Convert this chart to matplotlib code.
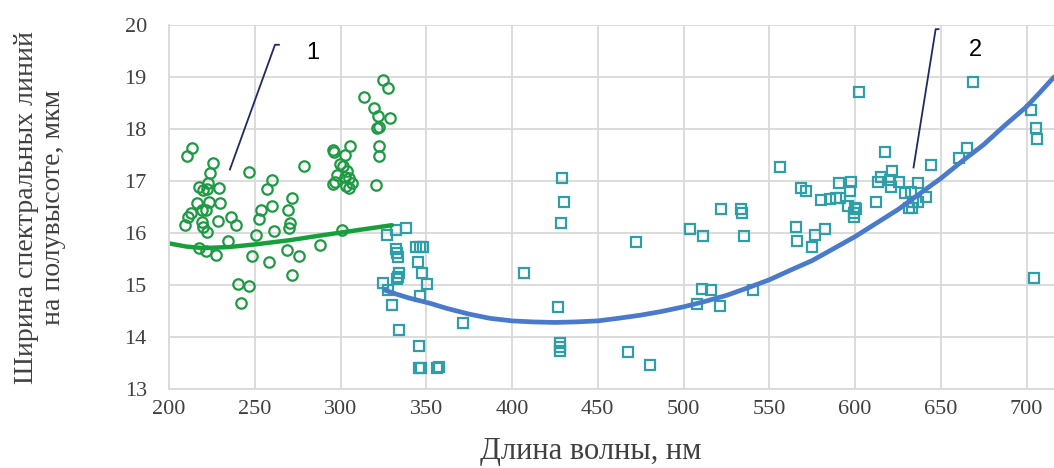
import numpy as np
import matplotlib
matplotlib.use("Agg")
import matplotlib.pyplot as plt

# --- DATA ---
# series 1: green circles
x1 = [213.2, 210.7, 225.8, 223.9, 246.6, 259.8, 256.9, 217.7, 220.0, 222.3,
      222.9, 229.0, 216.1, 223.5, 229.7, 219.0, 221.6, 212.6, 211.2, 209.3,
      219.0, 220.0, 222.3, 228.7, 236.1, 238.9, 234.6, 217.5, 221.4, 227.2,
      250.5, 253.6, 252.6, 259.8, 261.4, 248.2, 258.3, 240.0, 246.6, 242.0,
      271.5, 269.5, 270.5, 269.9, 268.6, 271.7, 276.0, 278.7, 300.6, 288.0,
      324.5, 327.8, 313.6, 319.5, 322.0, 328.8, 322.6, 321.4, 322.6, 322.6,
      320.6, 305.5, 295.4, 296.2, 302.6, 299.7, 301.6, 303.9, 297.7, 302.6,
      305.1, 296.7, 295.7, 303.1, 306.5, 305.1]
y1 = [17.63, 17.48, 17.34, 17.15, 17.18, 17.01, 16.84, 16.88, 16.83, 16.84,
      16.97, 16.87, 16.58, 16.60, 16.58, 16.44, 16.44, 16.38, 16.30, 16.15,
      16.22, 16.12, 16.01, 16.24, 16.30, 16.16, 15.85, 15.72, 15.66, 15.58,
      15.97, 16.44, 16.26, 16.51, 16.04, 15.56, 15.44, 15.02, 14.98, 14.65,
      16.68, 16.44, 16.19, 16.09, 15.67, 15.19, 15.56, 17.28, 16.06, 15.77,
      18.94, 18.78, 18.61, 18.41, 18.25, 18.21, 18.04, 18.01, 17.68, 17.49,
      16.92, 17.68, 17.60, 17.55, 17.50, 17.32, 17.28, 17.19, 17.12, 17.08,
      17.05, 16.99, 16.94, 16.91, 16.96, 16.87]

# series 2: blue squares
x2 = [326.9, 332.3, 338.1, 332.1, 333.0, 333.6, 344.3, 346.3, 348.2, 344.9,
      347.6, 334.2, 333.6, 333.0, 350.2, 324.5, 327.8, 346.3, 329.8, 371.5,
      334.2, 345.9, 345.5, 347.0, 356.5, 357.5,
      429.2, 430.4, 428.3, 472.1, 406.9, 426.9, 427.9, 427.9, 427.7, 467.7,
      480.7,
      602.1, 668.7, 702.7, 705.6, 706.2, 704.3, 617.6, 644.5, 665.4, 660.5,
      556.5, 503.6, 511.4, 521.7, 533.7, 534.3, 535.1, 510.8, 515.8, 507.9,
      521.4, 540.5, 568.7, 571.5, 565.4, 566.2, 576.6, 574.9, 582.3,
      580.3, 585.6, 588.7, 591.0, 590.6, 597.4, 596.9, 595.9, 599.8, 599.2,
      599.2, 600.7,
      613.3, 615.3, 621.7, 620.5, 621.1, 625.6, 636.6, 612.0, 628.9, 632.8,
      633.8, 636.7, 641.2, 631.4, 633.4]
y2 = [15.97, 16.06, 16.09, 15.69, 15.61, 15.53, 15.73, 15.73, 15.73, 15.45,
      15.24, 15.24, 15.16, 15.11, 15.01, 15.03, 14.90, 14.78, 14.62, 14.26,
      14.13, 13.83, 13.40, 13.40, 13.41, 13.42,
      17.05, 16.60, 16.19, 15.83, 15.24, 14.58, 13.88, 13.81, 13.73, 13.71,
      13.46,
      18.72, 18.91, 18.37, 18.01, 17.81, 15.14, 17.56, 17.30, 17.63, 17.44,
      17.26, 16.07, 15.94, 16.46, 16.46, 16.39, 15.95, 14.93, 14.90, 14.63,
      14.60, 14.90, 16.87, 16.81, 16.12, 15.85, 15.96, 15.74, 16.07,
      16.63, 16.65, 16.68, 16.68, 16.97, 16.99, 16.81, 16.52, 16.49, 16.38,
      16.31, 16.46,
      16.99, 17.08, 17.20, 17.01, 16.88, 16.99, 16.97, 16.60, 16.76, 16.79,
      16.60, 16.60, 16.69, 16.48, 16.48]

# trend lines
trend1_x = [200, 210, 220, 235, 250, 270, 290, 311, 330]
trend1_y = [15.80, 15.74, 15.71, 15.73, 15.78, 15.86, 15.96, 16.06, 16.15]
trend2_x = [326, 333, 340, 346, 352, 362, 375, 387, 400, 412, 425, 437, 450,
            462, 475, 487, 500, 512, 525, 537, 550, 562, 575, 587, 600, 612,
            625, 637, 650, 662, 675, 687, 700, 708, 716]
trend2_y = [14.90, 14.82, 14.75, 14.70, 14.65, 14.55, 14.44, 14.36, 14.31,
            14.29, 14.28, 14.29, 14.31, 14.36, 14.42, 14.49, 14.58, 14.68,
            14.80, 14.94, 15.10, 15.28, 15.47, 15.69, 15.93, 16.18, 16.45,
            16.74, 17.05, 17.37, 17.70, 18.06, 18.43, 18.71, 19.00]

# leader lines for the labels "1" and "2"
lead1_x = [235.5, 261.8, 264.1]
lead1_y = [17.22, 19.62, 19.62]
lead2_x = [634.1, 647.0, 648.7]
lead2_y = [17.26, 19.92, 19.92]

xticks = list(range(200, 701, 50))
yticks = list(range(13, 21))

# --- PLOT ---
plt.rcParams["font.family"] = ["Liberation Serif", "DejaVu Serif"]

fig = plt.figure(figsize=(10.54, 4.68), dpi=100)
W, H = 1054, 468
ax = fig.add_axes([169 / W, 1 - 389 / H, (1054 - 169) / W, (389 - 25) / H])

grid_c = "#d9d9d9"
ax.set_xlim(200, 716)
ax.set_ylim(13, 20)
ax.set_xticks(xticks)
ax.set_yticks(yticks)
ax.grid(True, color=grid_c, linewidth=1.3)
ax.set_axisbelow(True)
for s in ["top", "right"]:
    ax.spines[s].set_visible(False)
for s in ["left", "bottom"]:
    ax.spines[s].set_color(grid_c)
    ax.spines[s].set_linewidth(1.3)
ax.tick_params(length=0, labelsize=16, labelcolor="#404040")
ax.tick_params(axis="y", pad=16)
ax.tick_params(axis="x", pad=8)

ax.plot(x1, y1, linestyle="none", marker="o", markersize=7.5,
        markerfacecolor="none", markeredgecolor="#1f9a44", markeredgewidth=1.6,
        clip_on=False)
ax.plot(x2, y2, linestyle="none", marker="s", markersize=6.8,
        markerfacecolor="none", markeredgecolor="#2e9ea8", markeredgewidth=1.6,
        clip_on=False)

ax.plot(trend1_x, trend1_y, color="#16a03c", linewidth=3.2,
        solid_capstyle="round", solid_joinstyle="round")
ax.plot(trend2_x, trend2_y, color="#4a7acc", linewidth=3.4,
        solid_capstyle="round", solid_joinstyle="round")

ax.plot(lead1_x, lead1_y, color="#1f2a66", linewidth=1.3)
ax.plot(lead2_x, lead2_y, color="#1f2a66", linewidth=1.3)
ax.text(283.9, 19.46, "1", fontsize=17, ha="center", va="center",
        family=["Liberation Sans", "DejaVu Sans"])
ax.text(670, 19.52, "2", fontsize=17, ha="center", va="center",
        family=["Liberation Sans", "DejaVu Sans"])

fig.text(591 / W, 1 - 452 / H, "Длина волны, нм", fontsize=22,
         ha="center", va="center", color="#404040")
fig.text(40 / W, 1 - 207 / H, "Ширина спектральных линий\nна полувысоте, мкм",
         fontsize=20, rotation=90, ha="center", va="center",
         multialignment="center", linespacing=1.15, color="#404040")

fig.savefig("out.png", dpi=100)
